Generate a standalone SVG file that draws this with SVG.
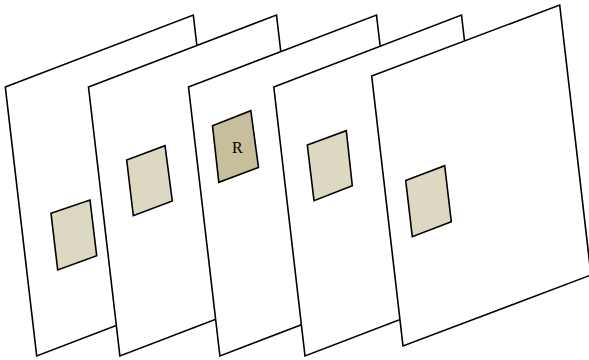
<svg xmlns="http://www.w3.org/2000/svg" width="589" height="360" viewBox="0 0 589 360">
<style>
.plane{fill:#ffffff;stroke:#000;stroke-width:1.6;stroke-linejoin:miter}
.box{fill:#dcd8c1;stroke:#000;stroke-width:1.6}
.boxr{fill:#c7bf9b;stroke:#000;stroke-width:1.6}
.lbl{font-family:"Liberation Serif","DejaVu Serif",serif;font-size:16px;fill:#000}
</style>
<rect width="589" height="360" fill="#ffffff"/>
<g id="plane1">
<polygon class="plane" points="5.3,87 193.3,15 224.7,284 36.7,356"/>
<polygon class="box" points="51,213.3 90,200 96.7,255.7 57.7,270"/>
</g>
<g id="plane2">
<polygon class="plane" points="88.5,87 276.5,15 307.9,284 119.9,356"/>
<polygon class="box" points="126.7,160 165,145.7 172.3,201 133.3,215.7"/>
</g>
<g id="plane3">
<polygon class="plane" points="188.5,87 376.5,15 407.9,284 219.9,356"/>
<polygon class="boxr" points="212.5,125.7 250.8,110.7 258.5,167.5 218.8,182.3"/>
<text class="lbl" x="237.3" y="152.5" text-anchor="middle">R</text>
</g>
<g id="plane4">
<polygon class="plane" points="273.8,87 461.5,15 492.9,284 305,356"/>
<polygon class="box" points="307.3,145 346.3,130.7 352.3,185.7 314,200.7"/>
</g>
<g id="plane5">
<polygon class="plane" points="371.7,76 559.7,5 591,275 403,346"/>
<polygon class="box" points="405.7,180.5 444.7,165.7 451.3,221.7 412.3,236.7"/>
</g>
<g id="connectors"></g>
</svg>
